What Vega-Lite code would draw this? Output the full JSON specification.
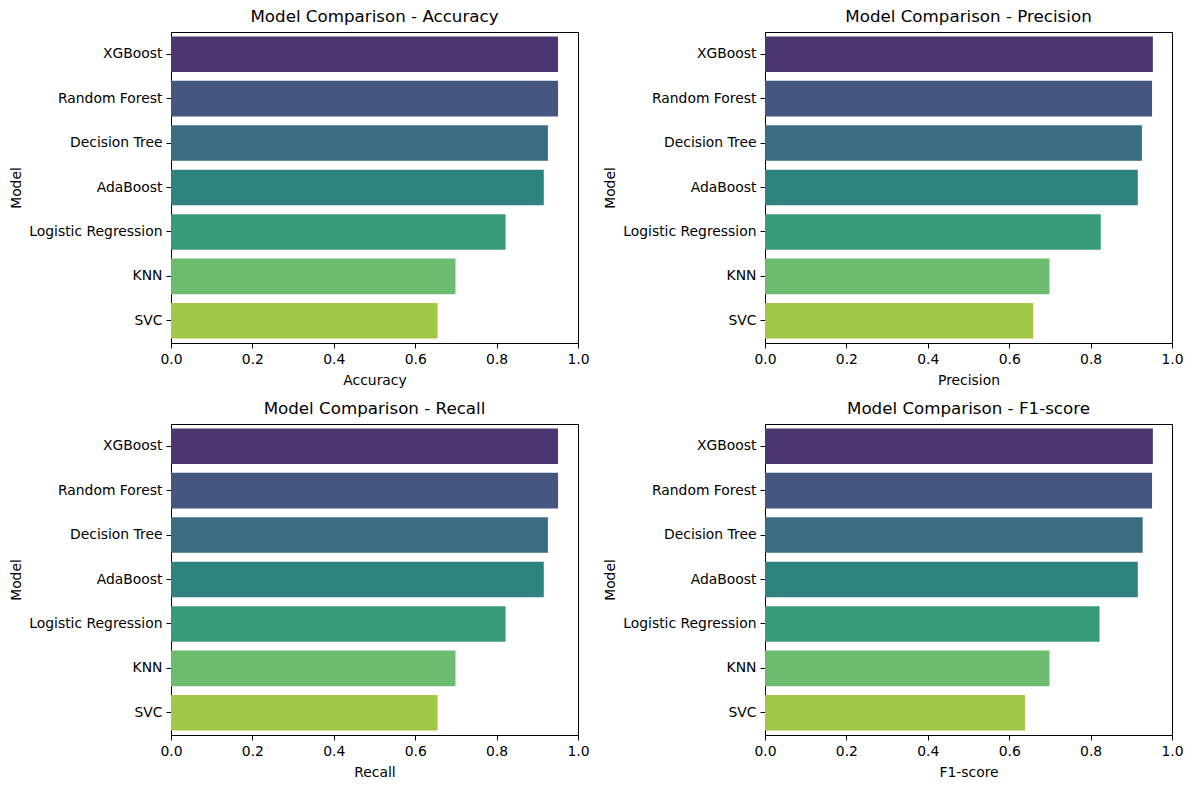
{
  "$schema": "https://vega.github.io/schema/vega-lite/v6.json",
  "background": "white",
  "padding": {"left": 9, "top": 8, "right": 5, "bottom": 5},
  "data": {
    "values": [
      {"model": "XGBoost", "accuracy": 0.951, "precision": 0.953, "recall": 0.951, "f1": 0.953},
      {"model": "Random Forest", "accuracy": 0.951, "precision": 0.951, "recall": 0.951, "f1": 0.951},
      {"model": "Decision Tree", "accuracy": 0.926, "precision": 0.926, "recall": 0.926, "f1": 0.928},
      {"model": "AdaBoost", "accuracy": 0.916, "precision": 0.916, "recall": 0.916, "f1": 0.916},
      {"model": "Logistic Regression", "accuracy": 0.822, "precision": 0.825, "recall": 0.822, "f1": 0.822},
      {"model": "KNN", "accuracy": 0.699, "precision": 0.699, "recall": 0.699, "f1": 0.699},
      {"model": "SVC", "accuracy": 0.655, "precision": 0.659, "recall": 0.655, "f1": 0.639}
    ]
  },
  "config": {
    "font": "DejaVu Sans",
    "view": {"stroke": "black", "strokeWidth": 1},
    "axis": {
      "grid": false,
      "domainColor": "black",
      "tickColor": "black",
      "tickSize": 5,
      "labelPadding": 4,
      "labelColor": "black",
      "titleColor": "black",
      "labelFont": "DejaVu Sans",
      "titleFont": "DejaVu Sans",
      "labelFontSize": 13.9,
      "titleFontSize": 13.9,
      "titleFontWeight": "normal",
      "titlePadding": 5,
      "labelFlush": false
    },
    "axisX": {"titlePadding": 8},
    "title": {
      "font": "DejaVu Sans",
      "fontSize": 16.7,
      "fontWeight": "normal",
      "color": "black",
      "offset": 6
    },
    "scale": {"bandPaddingInner": 0.2, "bandPaddingOuter": 0.1}
  },
  "columns": 2,
  "spacing": {"row": 11, "column": 13},
  "concat": [
    {
      "title": "Model Comparison - Accuracy",
      "width": 407,
      "height": 311,
      "mark": "bar",
      "encoding": {
        "y": {"field": "model", "type": "nominal", "sort": null, "title": "Model"},
        "x": {"field": "accuracy", "type": "quantitative", "title": "Accuracy",
              "scale": {"domain": [0, 1], "nice": false},
              "axis": {"values": [0, 0.2, 0.4, 0.6, 0.8, 1.0], "format": ".1f"}},
        "color": {"field": "model", "type": "nominal", "legend": null, "sort": null,
                  "scale": {"domain": ["XGBoost", "Random Forest", "Decision Tree", "AdaBoost", "Logistic Regression", "KNN", "SVC"],
                            "range": ["#4a3771", "#455681", "#386d82", "#2f837f", "#389c7b", "#6bbc6e", "#a1c747"]}}
      }
    },
    {
      "title": "Model Comparison - Precision",
      "width": 407,
      "height": 311,
      "mark": "bar",
      "encoding": {
        "y": {"field": "model", "type": "nominal", "sort": null, "title": "Model"},
        "x": {"field": "precision", "type": "quantitative", "title": "Precision",
              "scale": {"domain": [0, 1], "nice": false},
              "axis": {"values": [0, 0.2, 0.4, 0.6, 0.8, 1.0], "format": ".1f"}},
        "color": {"field": "model", "type": "nominal", "legend": null, "sort": null,
                  "scale": {"domain": ["XGBoost", "Random Forest", "Decision Tree", "AdaBoost", "Logistic Regression", "KNN", "SVC"],
                            "range": ["#4a3771", "#455681", "#386d82", "#2f837f", "#389c7b", "#6bbc6e", "#a1c747"]}}
      }
    },
    {
      "title": "Model Comparison - Recall",
      "width": 407,
      "height": 311,
      "mark": "bar",
      "encoding": {
        "y": {"field": "model", "type": "nominal", "sort": null, "title": "Model"},
        "x": {"field": "recall", "type": "quantitative", "title": "Recall",
              "scale": {"domain": [0, 1], "nice": false},
              "axis": {"values": [0, 0.2, 0.4, 0.6, 0.8, 1.0], "format": ".1f"}},
        "color": {"field": "model", "type": "nominal", "legend": null, "sort": null,
                  "scale": {"domain": ["XGBoost", "Random Forest", "Decision Tree", "AdaBoost", "Logistic Regression", "KNN", "SVC"],
                            "range": ["#4a3771", "#455681", "#386d82", "#2f837f", "#389c7b", "#6bbc6e", "#a1c747"]}}
      }
    },
    {
      "title": "Model Comparison - F1-score",
      "width": 407,
      "height": 311,
      "mark": "bar",
      "encoding": {
        "y": {"field": "model", "type": "nominal", "sort": null, "title": "Model"},
        "x": {"field": "f1", "type": "quantitative", "title": "F1-score",
              "scale": {"domain": [0, 1], "nice": false},
              "axis": {"values": [0, 0.2, 0.4, 0.6, 0.8, 1.0], "format": ".1f"}},
        "color": {"field": "model", "type": "nominal", "legend": null, "sort": null,
                  "scale": {"domain": ["XGBoost", "Random Forest", "Decision Tree", "AdaBoost", "Logistic Regression", "KNN", "SVC"],
                            "range": ["#4a3771", "#455681", "#386d82", "#2f837f", "#389c7b", "#6bbc6e", "#a1c747"]}}
      }
    }
  ]
}
